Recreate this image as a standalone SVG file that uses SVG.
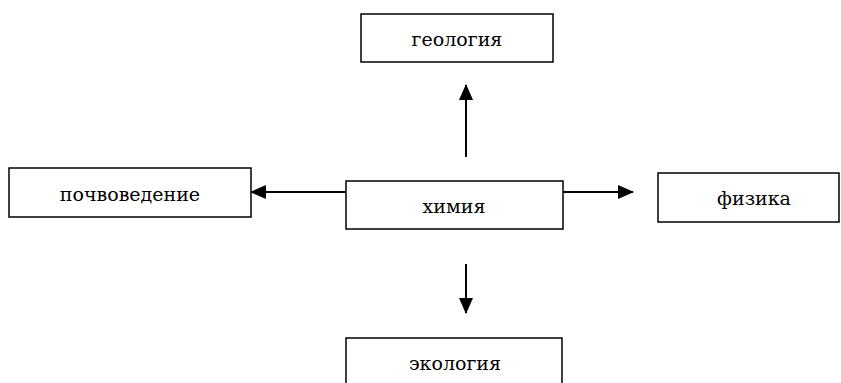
<svg xmlns="http://www.w3.org/2000/svg" width="841" height="383" viewBox="0 0 841 383">
<style>
.box{fill:#fff;stroke:#000;stroke-width:1.5}
.lbl{font-family:"DejaVu Serif","Times New Roman",serif;font-size:19px;fill:#000;text-anchor:middle}
.con{stroke:#000;stroke-width:2;fill:none}
</style>
<defs>
<marker id="ah" markerWidth="16" markerHeight="14" refX="15" refY="7" orient="auto" markerUnits="userSpaceOnUse">
<path d="M0,0 L16,7 L0,14 Z" fill="#000"/>
</marker>
</defs>
<rect width="841" height="383" fill="#fff"/>
<g id="connectors">
<line class="con" x1="466" y1="157" x2="466" y2="85" marker-end="url(#ah)"/>
<line class="con" x1="346" y1="192" x2="251" y2="192" marker-end="url(#ah)"/>
<line class="con" x1="563" y1="192" x2="633" y2="192" marker-end="url(#ah)"/>
<line class="con" x1="466" y1="264" x2="466" y2="313" marker-end="url(#ah)"/>
</g>
<g id="geologia">
<rect class="box" x="361" y="14" width="192" height="48"/>
<text class="lbl" x="457" y="46">геология</text>
</g>
<g id="himia">
<rect class="box" x="346" y="181" width="217" height="48"/>
<text class="lbl" x="454" y="213">химия</text>
</g>
<g id="pochvovedenie">
<rect class="box" x="9" y="168" width="242" height="49"/>
<text class="lbl" x="130" y="201">почвоведение</text>
</g>
<g id="fizika">
<rect class="box" x="658" y="173" width="181" height="49"/>
<text class="lbl" x="754" y="205">физика</text>
</g>
<g id="ekologia">
<rect class="box" x="346" y="338" width="216" height="60"/>
<text class="lbl" x="455" y="370">экология</text>
</g>
</svg>
